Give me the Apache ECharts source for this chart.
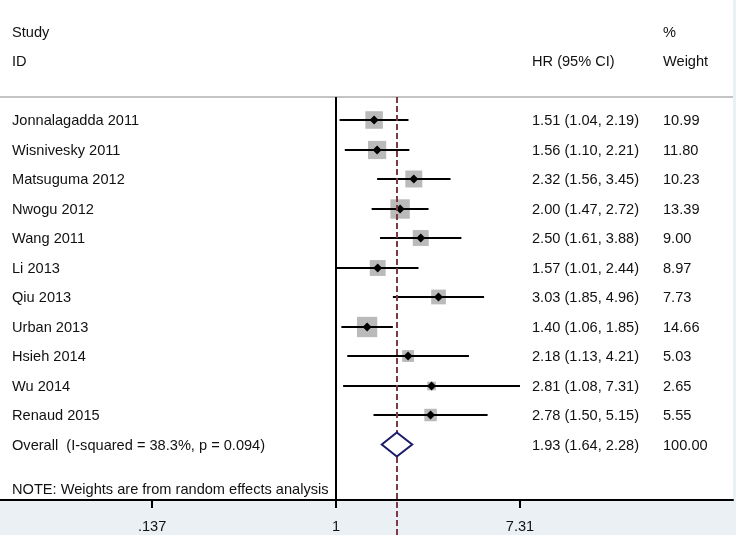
<!DOCTYPE html>
<html>
<head>
<meta charset="utf-8">
<script src="https://cdn.jsdelivr.net/npm/echarts@6/dist/echarts.min.js"></script>
<style>html,body{margin:0;padding:0;background:#eaf0f3}#c{width:736px;height:535px}</style>
</head>
<body>
<div id="c"></div>
<script>
const studies = ['Jonnalagadda 2011','Wisnivesky 2011','Matsuguma 2012','Nwogu 2012','Wang 2011','Li 2013','Qiu 2013','Urban 2013','Hsieh 2014','Wu 2014','Renaud 2015'];
const hr     = [1.51, 1.56, 2.32, 2.00, 2.50, 1.57, 3.03, 1.40, 2.18, 2.81, 2.78];
const lower  = [1.04, 1.10, 1.56, 1.47, 1.61, 1.01, 1.85, 1.06, 1.13, 1.08, 1.50];
const upper  = [2.19, 2.21, 3.45, 2.72, 3.88, 2.44, 4.96, 1.85, 4.21, 7.31, 5.15];
const weight = [10.99, 11.80, 10.23, 13.39, 9.00, 8.97, 7.73, 14.66, 5.03, 2.65, 5.55];
const overallLabel = 'Overall  (I-squared = 38.3%, p = 0.094)';
const overallHR = 1.93, overallLo = 1.64, overallHi = 2.28, overallW = 100.00;
const xTicks = [0.137, 1, 7.31];
const xTickLabels = ['.137', '1', '7.31'];
const noteText = 'NOTE: Weights are from random effects analysis';

const FONT = '"Liberation Sans", Arial, sans-serif';
const TXT = '#111';
const colName = 12, colHR = 532, colW = 663;

const chart = echarts.init(document.getElementById('c'));

const forestData = studies.map((s, i) => [i, hr[i], lower[i], upper[i], weight[i]]);

const textData = [
  [colName, -3, 'Study'], [colName, -2, 'ID'],
  [colHR, -2, 'HR (95% CI)'], [colW, -3, '%'], [colW, -2, 'Weight']
];
studies.forEach((s, i) => {
  textData.push([colName, i, s]);
  textData.push([colHR, i, hr[i].toFixed(2) + ' (' + lower[i].toFixed(2) + ', ' + upper[i].toFixed(2) + ')']);
  textData.push([colW, i, weight[i].toFixed(2)]);
});
const nRow = studies.length;
textData.push([colName, nRow, overallLabel]);
textData.push([colHR, nRow, overallHR.toFixed(2) + ' (' + overallLo.toFixed(2) + ', ' + overallHi.toFixed(2) + ')']);
textData.push([colW, nRow, overallW.toFixed(2)]);
textData.push([colName, nRow + 1.5, noteText]);

const topLineRow = -0.78;

chart.setOption({
  backgroundColor: '#eaf0f3',
  animation: false,
  grid: { left: 0, right: 3, top: 0, bottom: 35, show: true, backgroundColor: '#fff', borderWidth: 0 },
  xAxis: [
    {
      type: 'log', logBase: Math.E, min: 0.02645, max: 73.13,
      splitLine: { show: false },
      axisLine: { show: true, onZero: false, lineStyle: { color: '#000', width: 2 } },
      axisTick: { show: true, customValues: xTicks, length: 8, lineStyle: { color: '#000', width: 2 } },
      axisLabel: {
        show: true, customValues: xTicks, margin: 19,
        fontFamily: FONT, fontSize: 14.6, color: TXT,
        formatter: v => { const k = xTicks.findIndex(t => Math.abs(t - v) < 1e-6); return k >= 0 ? xTickLabels[k] : ''; }
      },
      minorTick: { show: false }
    },
    { type: 'value', min: 0, max: 733, show: false }
  ],
  yAxis: { type: 'value', inverse: true, min: -4.068, max: 12.881, show: false },
  series: [
    { // top separator line
      type: 'custom', xAxisIndex: 1, data: [[0, topLineRow]],
      renderItem: (params, api) => {
        const cs = params.coordSys;
        const y = Math.round(api.coord([0, topLineRow])[1]);
        return { type: 'line', shape: { x1: cs.x, y1: y, x2: cs.x + cs.width, y2: y }, style: { stroke: '#c4c4c4', lineWidth: 2 } };
      }
    },
    { // null line at 1
      type: 'custom', xAxisIndex: 0, data: [[1, topLineRow]],
      renderItem: (params, api) => {
        const cs = params.coordSys;
        const p = api.coord([1, topLineRow]);
        const x = Math.round(p[0]);
        return { type: 'line', shape: { x1: x, y1: Math.round(p[1]), x2: x, y2: cs.y + cs.height }, style: { stroke: '#000', lineWidth: 2 } };
      }
    },
    { // overall dashed line
      type: 'custom', xAxisIndex: 0, clip: false, data: [[overallHR, topLineRow]],
      renderItem: (params, api) => {
        const p = api.coord([overallHR, topLineRow]);
        const x = Math.round(p[0]);
        return { type: 'line', shape: { x1: x, y1: Math.round(p[1]), x2: x, y2: 535 }, style: { stroke: '#7d3a45', lineWidth: 2, lineDash: [6, 3] }, z2: 5 };
      }
    },
    { // study boxes, CIs, markers
      type: 'custom', xAxisIndex: 0, data: forestData,
      encode: { x: [1, 2, 3], y: 0 },
      renderItem: (params, api) => {
        const row = api.value(0), est = api.value(1), lo = api.value(2), hi = api.value(3), w = api.value(4);
        const c = api.coord([est, row]);
        const l = api.coord([lo, row]);
        const h = api.coord([hi, row]);
        const cy = Math.round(c[1]);
        const s = 5.3 * Math.sqrt(w);
        const d = 4.5;
        return {
          type: 'group', children: [
            { type: 'rect', shape: { x: c[0] - s / 2, y: cy - s / 2, width: s, height: s }, style: { fill: '#bababa' } },
            { type: 'line', shape: { x1: l[0], y1: cy, x2: h[0], y2: cy }, style: { stroke: '#000', lineWidth: 2 } },
            { type: 'polygon', shape: { points: [[c[0] - d, cy], [c[0], cy - d], [c[0] + d, cy], [c[0], cy + d]] }, style: { fill: '#000' } }
          ]
        };
      }
    },
    { // overall diamond
      type: 'custom', xAxisIndex: 0, data: [[nRow, overallHR, overallLo, overallHi]],
      encode: { x: [1, 2, 3], y: 0 },
      renderItem: (params, api) => {
        const row = api.value(0);
        const c = api.coord([api.value(1), row]);
        const l = api.coord([api.value(2), row]);
        const h = api.coord([api.value(3), row]);
        const hh = 12;
        return { type: 'polygon', z2: 10, shape: { points: [[l[0], c[1]], [c[0], c[1] - hh], [h[0], c[1]], [c[0], c[1] + hh]] },
          style: { fill: '#fff', stroke: '#1b1a6b', lineWidth: 2 } };
      }
    },
    { // text columns
      type: 'custom', xAxisIndex: 1, data: textData, z: 20,
      renderItem: (params, api) => {
        const item = textData[params.dataIndex];
        const p = api.coord([item[0], item[1]]);
        return { type: 'text', x: p[0], y: p[1] + 1, style: { text: item[2], font: '14.6px ' + FONT, fill: TXT, align: 'left', verticalAlign: 'middle' } };
      }
    }
  ]
});
</script>
</body>
</html>
